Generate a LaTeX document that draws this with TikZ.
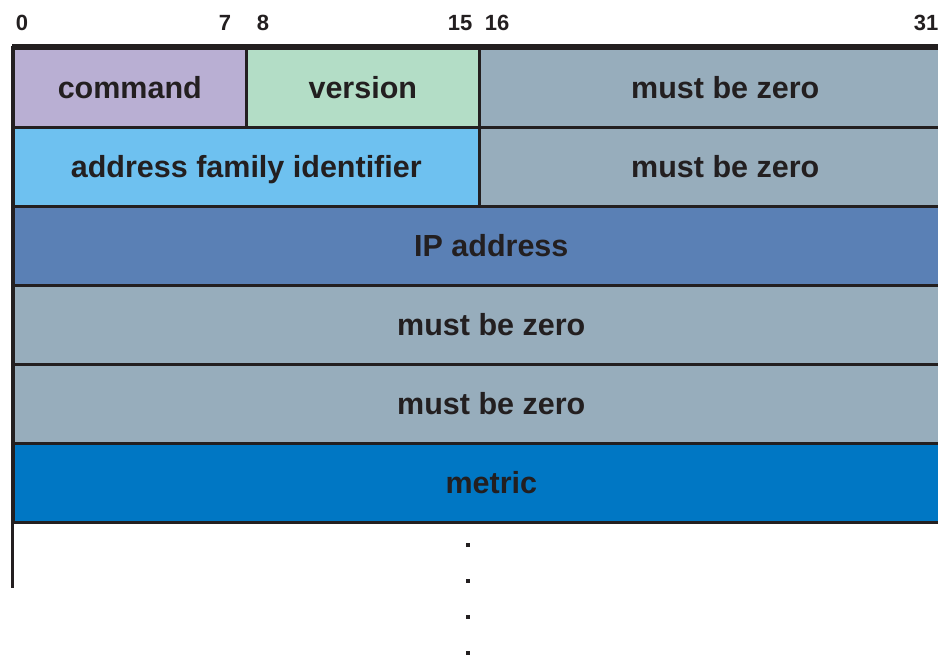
\documentclass[tikz,border=0pt]{standalone}
\usepackage{fontspec}
\setmainfont{Liberation Sans}
\definecolor{ink}{HTML}{231F20}
\definecolor{cmdfill}{HTML}{B9AFD3}
\definecolor{verfill}{HTML}{B3DDC6}
\definecolor{zerofill}{HTML}{97ADBC}
\definecolor{afifill}{HTML}{6EC1F0}
\definecolor{ipfill}{HTML}{5A80B5}
\definecolor{metfill}{HTML}{0077C4}
\begin{document}
\begin{tikzpicture}[x=1pt,y=-1pt,
  field/.style={draw=ink, line width=2.6pt, anchor=north west, inner sep=0pt,
    minimum height=79pt, text=ink, text height=21pt, text depth=0pt,
    font=\fontsize{30.5}{30.5}\selectfont\bfseries},
  bitnum/.style={anchor=base, text=ink, inner sep=0pt, font=\fontsize{22}{22}\selectfont\bfseries},
  dotmark/.style={fill=ink, minimum size=4.5pt, inner sep=0pt}]
\useasboundingbox (0,0) rectangle (938,660);
\clip (0,0) rectangle (938,660);
% bit positions above the first word
\node[bitnum] (b0)  at (22,31)  {0};
\node[bitnum] (b7)  at (225,31) {7};
\node[bitnum] (b8)  at (263,31) {8};
\node[bitnum] (b15) at (460,31) {15};
\node[bitnum] (b16) at (497,31) {16};
\node[bitnum] (b31) at (926,31) {31};
% header word
\node[field, fill=cmdfill,  minimum width=233pt] (cmd)  at (12,47)  {command};
\node[field, fill=verfill,  minimum width=233pt] (ver)  at (245,47) {version};
\node[field, fill=zerofill, minimum width=492pt] (mbz1) at (478,47) {must be zero};
% route entry
\node[field, fill=afifill,  minimum width=466pt] (afi)  at (12,126) {address family identifier};
\node[field, fill=zerofill, minimum width=492pt] (mbz2) at (478,126) {must be zero};
\node[field, fill=ipfill,   minimum width=956pt] (ip)   at (12,205) {IP address};
\node[field, fill=zerofill, minimum width=956pt] (mbz3) at (12,284) {must be zero};
\node[field, fill=zerofill, minimum width=956pt] (mbz4) at (12,363) {must be zero};
\node[field, fill=metfill,  minimum width=956pt] (met)  at (12,442) {metric};
% heavier top rule and left rule running below the entry
\coordinate (tl) at (12,46);
\coordinate (tr) at (938,46);
\coordinate (lb) at (12,588);
\draw[ink, line width=4pt] (tl) -- (tr);
\draw[ink, line width=3pt] (tl) -- (lb);
% continuation dots
\node[dotmark] (d1) at (468,545) {};
\node[dotmark] (d2) at (468,581) {};
\node[dotmark] (d3) at (468,617) {};
\node[dotmark] (d4) at (468,653) {};
\end{tikzpicture}
\end{document}
